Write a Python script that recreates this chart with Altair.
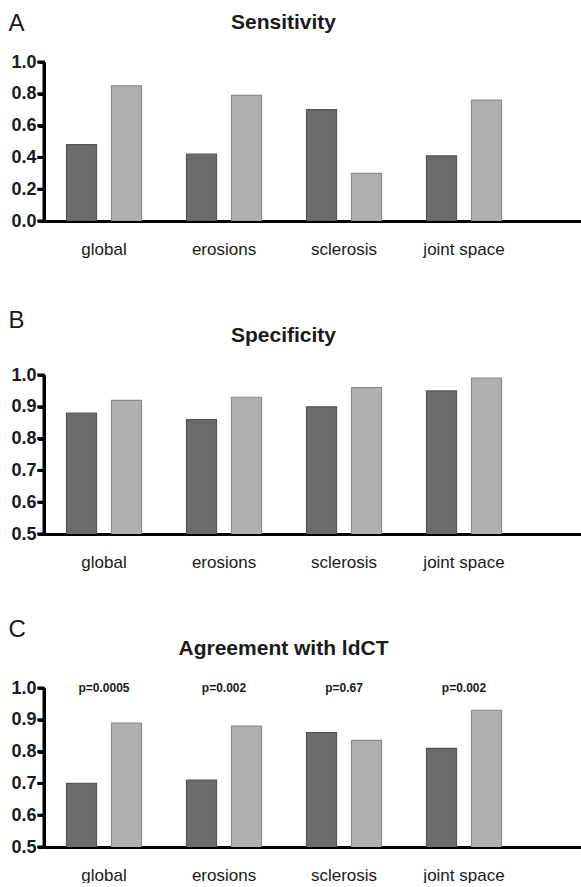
import altair as alt
import pandas as pd

# Categories, series values and p-value labels
categories = ["global", "erosions", "sclerosis", "joint space"]

sensitivity_1 = [0.48, 0.42, 0.70, 0.41]
sensitivity_2 = [0.85, 0.79, 0.30, 0.76]

specificity_1 = [0.88, 0.86, 0.90, 0.95]
specificity_2 = [0.92, 0.93, 0.96, 0.99]

agreement_1 = [0.70, 0.71, 0.86, 0.81]
agreement_2 = [0.89, 0.88, 0.835, 0.93]

p_labels = ["p=0.0005", "p=0.002", "p=0.67", "p=0.002"]

sens_ticks = [0.0, 0.2, 0.4, 0.6, 0.8, 1.0]
frac_ticks = [0.5, 0.6, 0.7, 0.8, 0.9, 1.0]

FONT = "Liberation Sans"
FILLS = ["#6b6b6b", "#b0b0b0"]
STROKES = ["#555555", "#8a8a8a"]
TEXT = "#1a1a1a"


def y_axis(letter, ticks, letter_y):
    return alt.Axis(
        values=ticks, format=".1f", grid=False,
        domain=True, domainWidth=3, domainColor="black",
        ticks=True, tickSize=6, tickWidth=3, tickColor="black",
        labelOverlap=False,
        title=letter, titleAngle=0, titleX=-36, titleY=letter_y,
        titleAlign="left", titleBaseline="alphabetic",
        titleFontSize=24, titleFontWeight="normal", titleFont=FONT, titleColor=TEXT,
        labelFont=FONT, labelFontWeight="bold", labelFontSize=18,
        labelPadding=2, labelColor=TEXT,
    )


def x_axis():
    return alt.Axis(
        title=None, labelAngle=0, ticks=False, labelPadding=20,
        labelFontSize=17, labelFont=FONT, labelColor=TEXT,
        domain=True, domainWidth=3, domainColor="black",
    )


def panel(letter, heading, v1, v2, lo, ticks, letter_y, height, with_p=False):
    yax = y_axis(letter, ticks, letter_y)
    x_enc = alt.X(
        "category:N", sort=categories, axis=x_axis(),
        scale=alt.Scale(paddingInner=0, paddingOuter=0.2375, align=0),
    )
    y_scale = alt.Scale(domainMin=lo, domainMax=1.0)

    layers = []
    # one bar layer per series, side by side inside each category band
    for values, fill, stroke, shift in zip((v1, v2), FILLS, STROKES, (-22.5, 22.5)):
        df = pd.DataFrame({"category": categories, "value": values})
        layers.append(
            alt.Chart(df).mark_bar(
                width=30, xOffset=shift, fill=fill, stroke=stroke, strokeWidth=1.2, clip=True,
            ).encode(x=x_enc, y=alt.Y("value:Q", scale=y_scale, axis=yax))
        )

    # vertical axis line as a filled strip
    layers.append(
        alt.Chart(pd.DataFrame({"lo": [lo], "hi": [1.0]})).mark_rect(
            fill="black", stroke=None,
        ).encode(x=alt.value(-1.5), x2=alt.value(1.5), y=alt.Y("lo:Q", axis=yax), y2="hi:Q")
    )
    # outward tick marks as filled ticks
    layers.append(
        alt.Chart(pd.DataFrame({"tick": ticks})).mark_tick(
            orient="horizontal", thickness=3, size=7.5, color="black", opacity=1,
        ).encode(x=alt.value(-3), y=alt.Y("tick:Q", axis=yax))
    )

    if with_p:
        p_df = pd.DataFrame({"category": categories, "label": p_labels, "level": [1.0] * 4})
        layers.append(
            alt.Chart(p_df).mark_text(
                font=FONT, fontSize=12, fontWeight="bold", baseline="middle", color=TEXT,
            ).encode(
                x=alt.X("category:N", sort=categories),
                y=alt.Y("level:Q", axis=yax),
                text="label:N",
            )
        )

    title = alt.TitleParams(
        heading, font=FONT, fontSize=21, fontWeight="bold", color=TEXT,
        anchor="middle", frame="group", dx=-29, dy=-6 - letter_y,
    )
    return alt.layer(*layers).properties(width=537, height=height, title=title)


chart_a = panel("A", "Sensitivity", sensitivity_1, sensitivity_2, 0.0, sens_ticks, -32, 159)
chart_b = panel("B", "Specificity", specificity_1, specificity_2, 0.5, frac_ticks, -48, 159)
chart_c = panel("C", "Agreement with ldCT", agreement_1, agreement_2, 0.5, frac_ticks, -52, 159,
                with_p=True)

chart = (
    alt.vconcat(chart_a, chart_b, chart_c, spacing=154, bounds="flush")
    .properties(background="white", padding={"left": 8, "top": 11, "right": 0, "bottom": 0})
    .configure_view(stroke=None)
)

chart.save("out.html", embed_options={"renderer": "svg", "actions": False})
